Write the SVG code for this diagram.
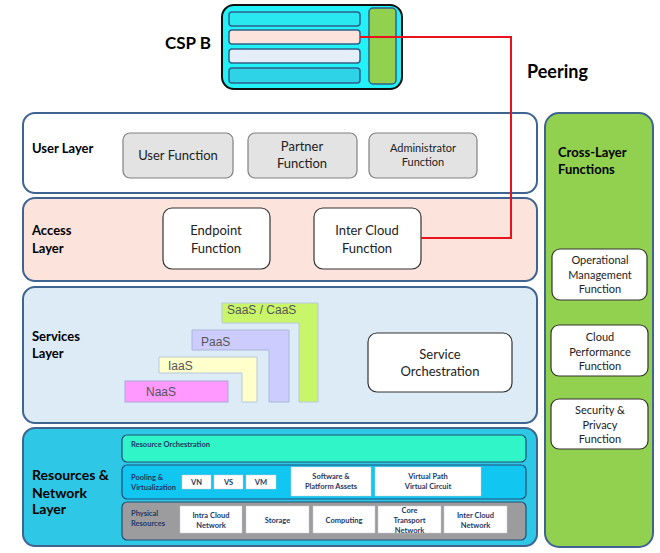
<svg xmlns="http://www.w3.org/2000/svg" width="660" height="553" viewBox="0 0 660 553">
<style>
text{font-family:Lato,"Open Sans","Liberation Sans",sans-serif;}
.lbl{font-weight:bold;font-size:13px;fill:#000;}
.fn{font-size:13px;fill:#222;text-anchor:middle;}
.sm{font-size:11px;fill:#222;text-anchor:middle;}
.lay{stroke:#3F6491;stroke-width:2;}
.gbox{fill:#E3E3E3;stroke:#808080;stroke-width:1.2;}
.wbox{fill:#fff;stroke:#333;stroke-width:1.2;}
.bar{stroke:#2F5F8A;stroke-width:1.5;}
.tiny{font-size:7.5px;font-weight:bold;fill:#1F3864;}
.tinyc{font-size:7.5px;font-weight:bold;fill:#1F3864;text-anchor:middle;}
.wr{fill:#fff;stroke:#ccc;stroke-width:0.5;}
.svc{font-size:12px;fill:#555;font-family:"Liberation Sans",Arial,sans-serif;}
</style>
<g id="csp-b">
<rect x="222" y="5" width="180" height="84" rx="12" fill="#22F2F7" stroke="#111" stroke-width="2"/>
<rect class="bar" x="229" y="12" width="131" height="14" rx="3" fill="#2AE8F0"/>
<rect class="bar" x="229" y="30" width="131" height="14" rx="3" fill="#FCE4DC"/>
<rect class="bar" x="229" y="49" width="131" height="14" rx="3" fill="#E4EEF9"/>
<rect class="bar" x="229" y="68" width="131" height="15" rx="3" fill="#2ED3E8"/>
<rect x="369" y="8" width="27" height="76" rx="4" fill="#92D050" stroke="#2F5F8A" stroke-width="1.5"/>
<text class="lbl" x="165" y="49" style="font-size:17px">CSP B</text>
</g>
<g id="user-layer">
<rect class="lay" x="23" y="113" width="514" height="80" rx="12" fill="#fff"/>
<text class="lbl" x="32" y="153">User Layer</text>
<g id="user-function"><rect class="gbox" x="123" y="133" width="110" height="45" rx="7"/><text class="fn" x="178" y="160">User Function</text></g>
<g id="partner-function"><rect class="gbox" x="248" y="133" width="109" height="45" rx="7"/><text class="fn" x="302" y="151">Partner</text><text class="fn" x="302" y="168">Function</text></g>
<g id="administrator-function"><rect class="gbox" x="369" y="133" width="108" height="45" rx="7"/><text class="sm" x="423" y="152">Administrator</text><text class="sm" x="423" y="166">Function</text></g>
</g>
<g id="access-layer">
<rect class="lay" x="23" y="198" width="514" height="83" rx="12" fill="#FCE4DC"/>
<text class="lbl" x="32" y="235">Access</text>
<text class="lbl" x="32" y="253">Layer</text>
<g id="endpoint-function"><rect class="wbox" x="163" y="208" width="107" height="61" rx="9"/><text class="fn" x="216" y="235">Endpoint</text><text class="fn" x="216" y="253">Function</text></g>
<g id="inter-cloud-function"><rect class="wbox" x="314" y="208" width="107" height="61" rx="9"/><text class="fn" x="367" y="235">Inter Cloud</text><text class="fn" x="367" y="253">Function</text></g>
</g>
<g id="services-layer">
<rect class="lay" x="23" y="287" width="514" height="136" rx="12" fill="#DDEBF7"/>
<text class="lbl" x="32" y="341">Services</text>
<text class="lbl" x="32" y="358">Layer</text>
<g id="saas"><path d="M222 303 H318 V402 H299 V323 H222 Z" fill="#C9F56B" stroke="#B8C8D8" stroke-width="1"/><text class="svc" x="227" y="314">SaaS / CaaS</text></g>
<g id="paas"><path d="M192 330 H289 V402 H269 V350 H192 Z" fill="#CCCCFF" stroke="#A8B8D8" stroke-width="1"/><text class="svc" x="201" y="346">PaaS</text></g>
<g id="iaas"><path d="M159 357 H257 V402 H242 V373 H159 Z" fill="#FFFFCC" stroke="#B8C8D8" stroke-width="1"/><text class="svc" x="168" y="370">IaaS</text></g>
<g id="naas"><rect x="125" y="381" width="103" height="21" fill="#FF99FF" stroke="#A8A8D8" stroke-width="1"/><text class="svc" x="146" y="396">NaaS</text></g>
<g id="service-orchestration"><rect class="wbox" x="368" y="333" width="144" height="59" rx="9"/><text class="fn" x="440" y="359">Service</text><text class="fn" x="440" y="376">Orchestration</text></g>
</g>
<g id="resources-layer">
<rect class="lay" x="23" y="428" width="514" height="118" rx="12" fill="#2EC8E6"/>
<text class="lbl" x="32" y="480" style="font-size:14px">Resources &amp;</text>
<text class="lbl" x="32" y="498" style="font-size:14px">Network</text>
<text class="lbl" x="32" y="514" style="font-size:14px">Layer</text>
<g id="resource-orchestration"><rect x="122" y="435" width="404" height="27" rx="5" fill="#2FF5C8" stroke="#1F4E79" stroke-width="1.2"/><text class="tiny" x="131" y="447">Resource Orchestration</text></g>
<g id="pooling">
<rect x="122" y="465" width="404" height="34" rx="5" fill="#12C6F2" stroke="#1F4E79" stroke-width="1.2"/>
<text class="tiny" x="131" y="480">Pooling &amp;</text>
<text class="tiny" x="131" y="490">Virtualization</text>
<rect class="wr" x="182" y="475" width="29" height="14"/><text class="tinyc" x="196.5" y="485">VN</text>
<rect class="wr" x="214" y="475" width="29" height="14"/><text class="tinyc" x="228.5" y="485">VS</text>
<rect class="wr" x="246" y="475" width="30" height="14"/><text class="tinyc" x="261" y="485">VM</text>
<rect class="wr" x="291" y="467" width="80" height="29"/><text class="tinyc" x="331" y="479">Software &amp;</text><text class="tinyc" x="331" y="489">Platform Assets</text>
<rect class="wr" x="375" y="467" width="106" height="29"/><text class="tinyc" x="428" y="479">Virtual Path</text><text class="tinyc" x="428" y="489">Virtual Circuit</text>
</g>
<g id="physical">
<rect x="122" y="502" width="404" height="38" rx="5" fill="#9C9C9F" stroke="#1F4E79" stroke-width="1.2"/>
<text class="tiny" x="131" y="516">Physical</text>
<text class="tiny" x="131" y="526">Resources</text>
<rect class="wr" x="180" y="506" width="62" height="27"/><text class="tinyc" x="211" y="518">Intra Cloud</text><text class="tinyc" x="211" y="528">Network</text>
<rect class="wr" x="246" y="506" width="63" height="27"/><text class="tinyc" x="277.5" y="523">Storage</text>
<rect class="wr" x="313" y="506" width="62" height="27"/><text class="tinyc" x="344" y="523">Computing</text>
<rect class="wr" x="378" y="506" width="63" height="27"/><text class="tinyc" x="409.5" y="513">Core</text><text class="tinyc" x="409.5" y="523">Transport</text><text class="tinyc" x="409.5" y="533">Network</text>
<rect class="wr" x="444" y="506" width="63" height="27"/><text class="tinyc" x="475.5" y="518">Inter Cloud</text><text class="tinyc" x="475.5" y="528">Network</text>
</g>
</g>
<g id="cross-layer">
<rect class="lay" x="545" y="113" width="108" height="434" rx="14" fill="#92D050"/>
<text class="lbl" x="558" y="157">Cross-Layer</text>
<text class="lbl" x="558" y="174">Functions</text>
<g id="operational-management"><rect class="wbox" x="552" y="249" width="95" height="51" rx="8"/><text class="sm" x="600" y="264">Operational</text><text class="sm" x="600" y="279">Management</text><text class="sm" x="600" y="293">Function</text></g>
<g id="cloud-performance"><rect class="wbox" x="551" y="325" width="97" height="51" rx="8"/><text class="sm" x="600" y="341">Cloud</text><text class="sm" x="600" y="356">Performance</text><text class="sm" x="600" y="370">Function</text></g>
<g id="security-privacy"><rect class="wbox" x="551" y="399" width="97" height="50" rx="8"/><text class="sm" x="600" y="414">Security &amp;</text><text class="sm" x="600" y="429">Privacy</text><text class="sm" x="600" y="443">Function</text></g>
</g>
<g id="connectors">
<polyline points="360,37 511,37 511,238 421,238" fill="none" stroke="#E8141B" stroke-width="2"/>
<text class="lbl" x="527" y="78" style="font-size:18px">Peering</text>
</g>
</svg>
